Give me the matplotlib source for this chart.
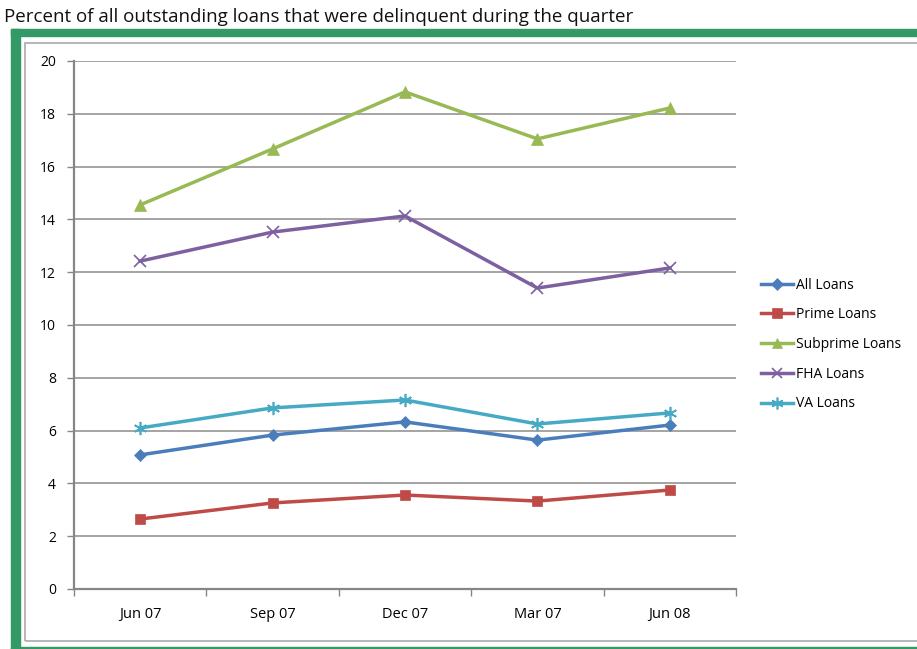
import numpy as np
import matplotlib.pyplot as plt
from matplotlib.patches import Rectangle

# quarters on the x axis
quarters = ['Jun 07', 'Sep 07', 'Dec 07', 'Mar 07', 'Jun 08']

# delinquency rates (percent)
all_loans = [5.08, 5.83, 6.33, 5.64, 6.21]
prime_loans = [2.65, 3.26, 3.56, 3.33, 3.75]
subprime_loans = [14.55, 16.67, 18.83, 17.05, 18.22]
fha_loans = [12.42, 13.52, 14.13, 11.40, 12.16]
va_loans = [6.10, 6.86, 7.16, 6.25, 6.67]

names = ['All Loans', 'Prime Loans', 'Subprime Loans', 'FHA Loans', 'VA Loans']
colors = ['#4A7EBB', '#BE4B48', '#98B954', '#7D60A0', '#46AAC5']
markers = ['D', 's', '^', 'x', (6, 2, 0)]
sizes = [6.5, 7.5, 8.5, 8.5, 9.5]

plt.rcParams['font.family'] = ['Open Sans', 'DejaVu Sans']

W, H = 917, 649
fig = plt.figure(figsize=(W / 100, H / 100), dpi=100)

# green frame and inner grey border
fig.patches.append(Rectangle((11 / W, 0), 9 / W, (H - 29) / H, transform=fig.transFigure,
                             color='#339966', zorder=0))
fig.patches.append(Rectangle((11 / W, (H - 36) / H), 1, 7 / H, transform=fig.transFigure,
                             color='#339966', zorder=0))
fig.patches.append(Rectangle((11 / W, 0), 1, 2 / H, transform=fig.transFigure,
                             color='#339966', zorder=0))
fig.patches.append(Rectangle((25 / W, 8 / H), 1, (H - 43 - 8) / H, transform=fig.transFigure,
                             fill=False, edgecolor='#AAAAAA', linewidth=1.2, zorder=1))

fig.text(4 / W, 1 - 17.5 / H, 'Percent of all outstanding loans that were delinquent during the quarter',
         fontsize=13.5, va='center', ha='left', color='#111111')

ax = fig.add_axes([74 / W, (H - 589) / H, (736 - 74) / W, (589 - 61) / H])
x = np.arange(len(quarters))
series = [all_loans, prime_loans, subprime_loans, fha_loans, va_loans]
for vals, name, c, m, s in zip(series, names, colors, markers, sizes):
    ax.plot(x, vals, color=c, marker=m, markersize=s, linewidth=2.5, label=name,
            markeredgewidth=1.2 if m in ('x', (6, 2, 0)) else 0.5, markeredgecolor=c, zorder=3)

ax.set_xlim(-0.5, len(quarters) - 0.5)
ax.set_ylim(0, 20)
ax.set_yticks(np.arange(0, 21, 2))
ax.set_xticks(x)
ax.set_xticklabels(quarters)
ax.set_xticks(np.arange(-0.5, len(quarters), 1), minor=True)
ax.tick_params(axis='x', which='major', length=0, pad=13, labelsize=10.5)
ax.tick_params(axis='x', which='minor', length=5, color='#868686', width=1)
ax.tick_params(axis='y', length=5, color='#868686', width=1, labelsize=10, pad=8)
ax.grid(axis='y', color='#8C8C8C', linewidth=1.1, zorder=0)
ax.set_axisbelow(True)
for side in ['top', 'right']:
    ax.spines[side].set_visible(False)
for side in ['left', 'bottom']:
    ax.spines[side].set_color('#868686')
    ax.spines[side].set_linewidth(1.6)

ax.legend(loc='upper left', bbox_to_anchor=(748 / W, 1 - 265 / H), bbox_transform=fig.transFigure,
          frameon=False, fontsize=10, handlelength=2.35, handletextpad=0.2,
          labelspacing=1.06, markerscale=0.9)

fig.savefig('out.png', dpi=100)
